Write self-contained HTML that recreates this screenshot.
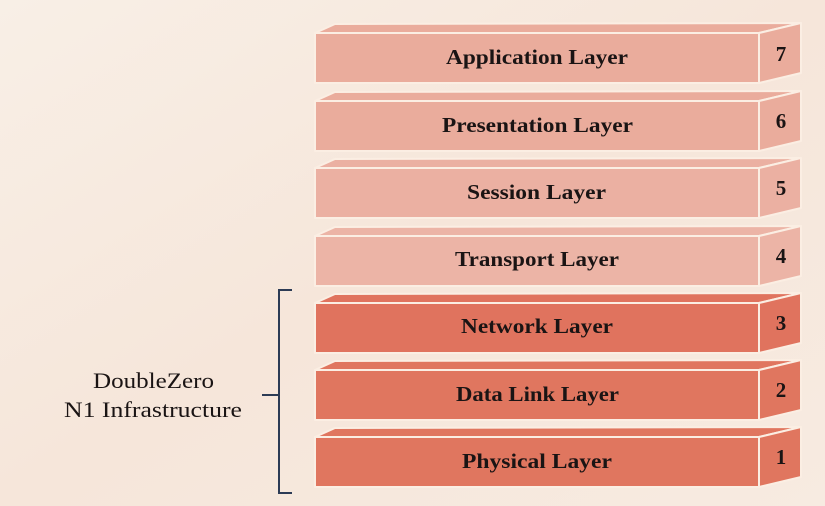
<!DOCTYPE html>
<html><head><meta charset="utf-8"><style>
html,body{margin:0;padding:0;}
body{width:825px;height:506px;overflow:hidden;background:#f8ece2;}
svg{display:block;}
text{font-family:"Liberation Serif",serif;}
</style></head><body>
<svg width="825" height="506" viewBox="0 0 825 506" xmlns="http://www.w3.org/2000/svg">
<defs>
<linearGradient id="bg" x1="0" y1="0" x2="1" y2="1">
<stop offset="0" stop-color="#f8efe6"/><stop offset="0.5" stop-color="#f6e6da"/><stop offset="1" stop-color="#f7ebe1"/>
</linearGradient>
</defs>
<rect width="825" height="506" fill="url(#bg)"/>
<g stroke="#fbeee3" stroke-width="2" stroke-linejoin="round">
<g fill="#eaac9c"><polygon points="315,33 335,24 801,23 759,33"/><rect x="315" y="33" width="444" height="50"/><polygon points="759,33 801,23 801,73 759,83"/></g>
<g fill="#eaac9c"><polygon points="315,101 335,92 801,91 759,101"/><rect x="315" y="101" width="444" height="50"/><polygon points="759,101 801,91 801,141 759,151"/></g>
<g fill="#ebb0a2"><polygon points="315,168 335,159 801,158 759,168"/><rect x="315" y="168" width="444" height="50"/><polygon points="759,168 801,158 801,208 759,218"/></g>
<g fill="#ecb4a6"><polygon points="315,236 335,227 801,226 759,236"/><rect x="315" y="236" width="444" height="50"/><polygon points="759,236 801,226 801,276 759,286"/></g>
<g fill="#e0735e"><polygon points="315,303 335,294 801,293 759,303"/><rect x="315" y="303" width="444" height="50"/><polygon points="759,303 801,293 801,343 759,353"/></g>
<g fill="#e0765f"><polygon points="315,370 335,361 801,360 759,370"/><rect x="315" y="370" width="444" height="50"/><polygon points="759,370 801,360 801,410 759,420"/></g>
<g fill="#e0765f"><polygon points="315,437 335,428 801,427 759,437"/><rect x="315" y="437" width="444" height="50"/><polygon points="759,437 801,427 801,477 759,487"/></g>
</g>
<g font-size="21" font-weight="bold" fill="#1a1414" lengthAdjust="spacingAndGlyphs">
<text x="446" y="64" textLength="182" lengthAdjust="spacingAndGlyphs">Application Layer</text>
<text x="442" y="132" textLength="191" lengthAdjust="spacingAndGlyphs">Presentation Layer</text>
<text x="467" y="199" textLength="139" lengthAdjust="spacingAndGlyphs">Session Layer</text>
<text x="455" y="266" textLength="164" lengthAdjust="spacingAndGlyphs">Transport Layer</text>
<text x="461" y="333" textLength="152" lengthAdjust="spacingAndGlyphs">Network Layer</text>
<text x="456" y="401" textLength="163" lengthAdjust="spacingAndGlyphs">Data Link Layer</text>
<text x="462" y="468" textLength="150" lengthAdjust="spacingAndGlyphs">Physical Layer</text>
</g>
<g font-size="21" font-weight="bold" fill="#1a1414" text-anchor="middle">
<text x="781" y="61">7</text>
<text x="781" y="128">6</text>
<text x="781" y="195">5</text>
<text x="781" y="263">4</text>
<text x="781" y="330">3</text>
<text x="781" y="397">2</text>
<text x="781" y="464">1</text>
</g>
<path d="M292,290 H279 V493 H292 M262,395 H279" fill="none" stroke="#2c3b55" stroke-width="2"/>
<g font-size="22" fill="#1a1414">
<text x="93" y="388" textLength="121" lengthAdjust="spacingAndGlyphs">DoubleZero</text>
<text x="64" y="417" textLength="178" lengthAdjust="spacingAndGlyphs">N1 Infrastructure</text>
</g>
</svg>
</body></html>
